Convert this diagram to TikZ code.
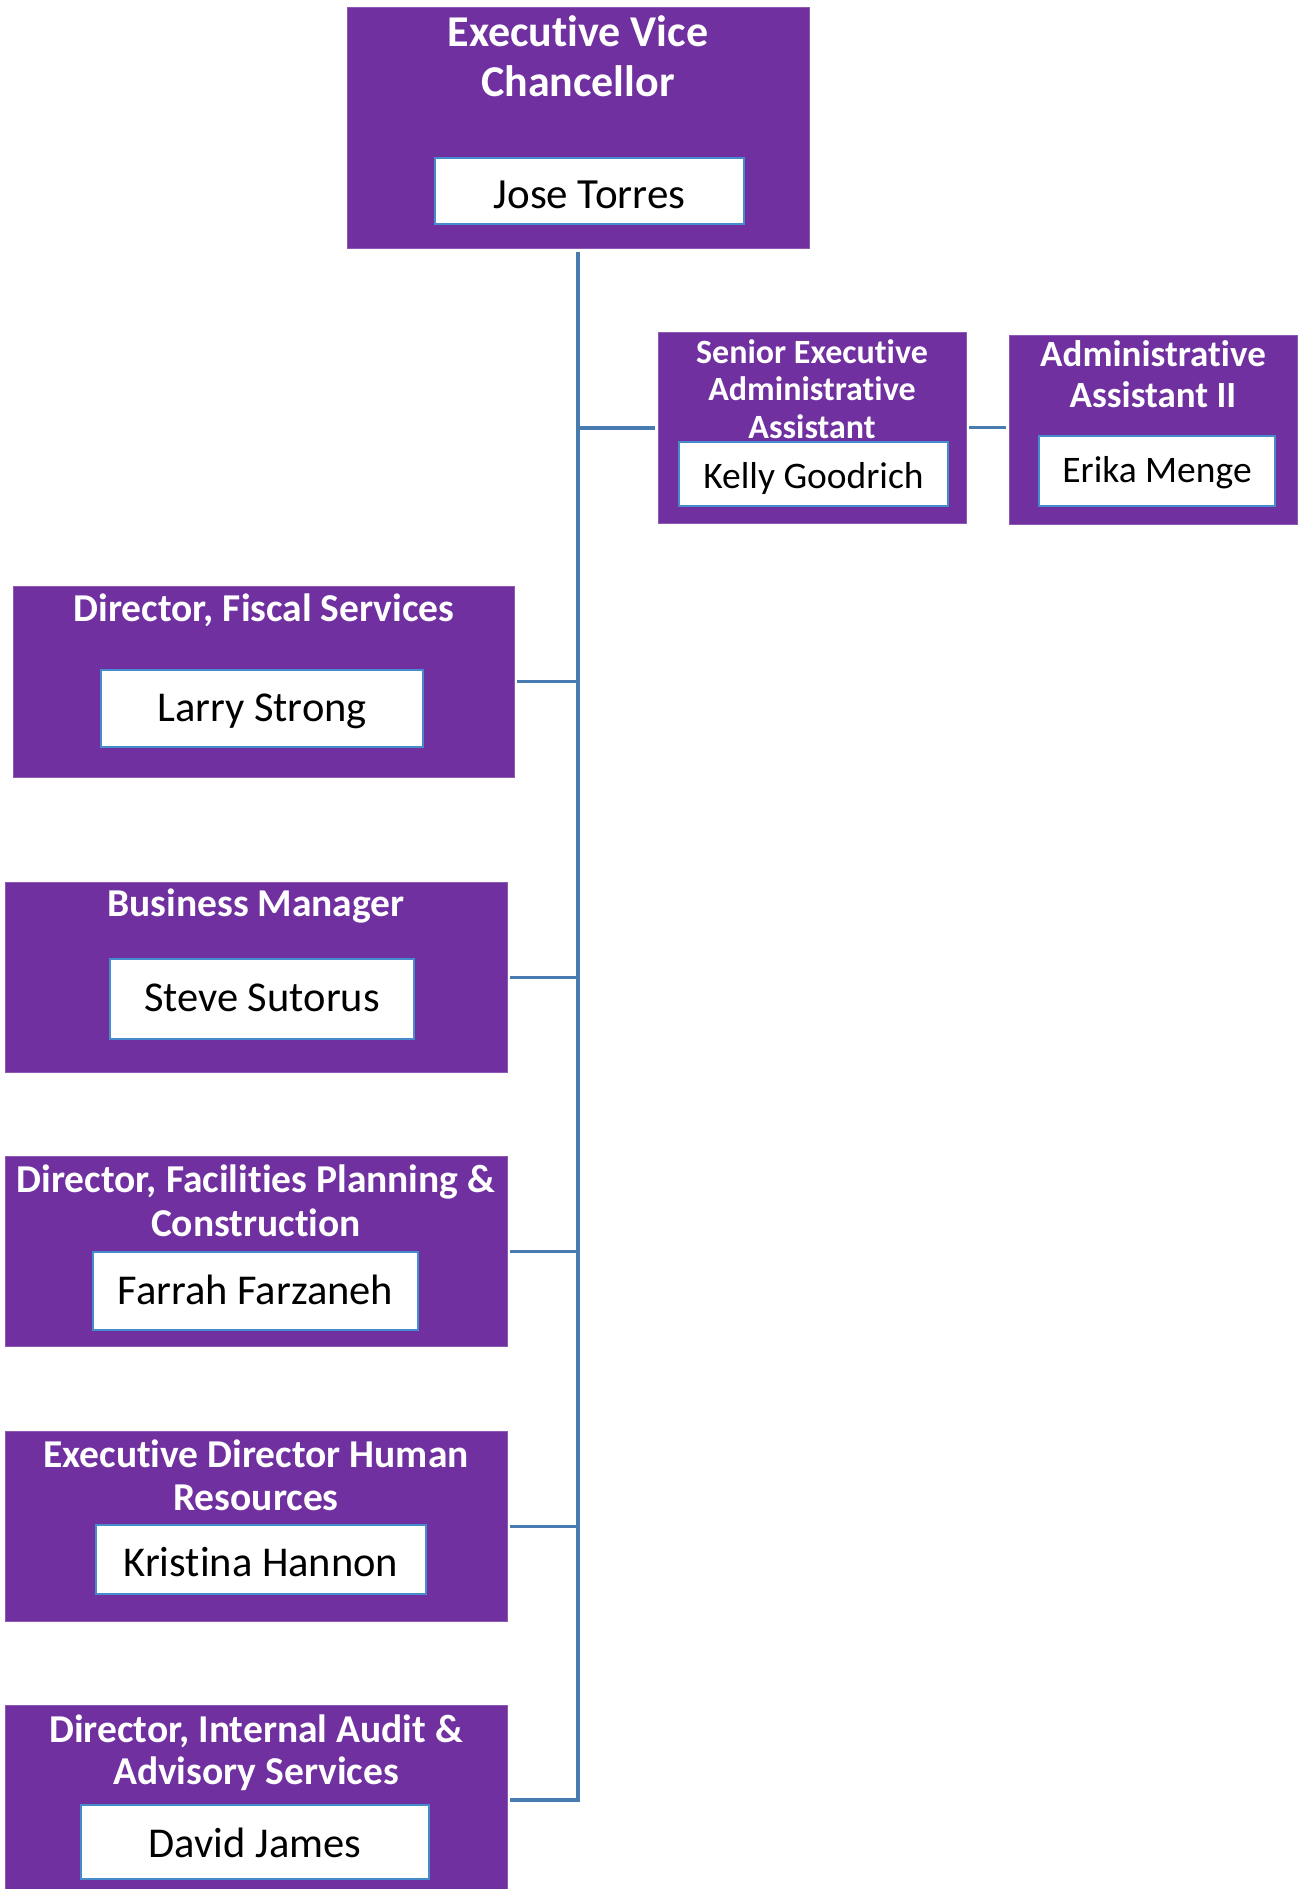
\documentclass[tikz,border=0pt]{standalone}
\usepackage{fontspec}
\setmainfont{Carlito}[Ligatures={NoCommon,NoRare}]
\definecolor{purp}{HTML}{7030A0}
\definecolor{lineblue}{RGB}{72,124,176}
\definecolor{boxblue}{RGB}{70,140,205}
\begin{document}
\begin{tikzpicture}[x=1pt,y=-1pt,
  pbox/.style={fill=purp,draw=purp!80!white,line width=0.6pt,inner sep=0pt},
  wbox/.style={fill=white,draw=boxblue,line width=1.8pt,inner sep=0pt,text depth=0pt},
  ttl/.style={text=white,align=center,inner sep=0pt},
  conn/.style={draw=lineblue,line width=3pt},
  trunk/.style={draw=lineblue,line width=3.4pt},
  connthick/.style={draw=lineblue,line width=4pt}]
\useasboundingbox (0,0) rectangle (1303,1889);
% Executive Vice Chancellor
\node[pbox,minimum width=462pt,minimum height=241pt] (evc) at (578,127.5) {};
\node[ttl,font=\fontsize{44}{50}\selectfont\bfseries] (evct) at (578,56) {Executive Vice\\Chancellor};
\node[wbox,minimum width=309pt,minimum height=66pt,text height=35pt,font=\fontsize{43}{46}\selectfont] (jose) at (589.5,191) {Jose Torres};
% Senior Executive Administrative Assistant
\node[pbox,minimum width=308pt,minimum height=191pt] (seaa) at (812,427.5) {};
\node[ttl,font=\fontsize{34}{37.5}\selectfont\bfseries] (seaat) at (812,389) {Senior Executive\\Administrative\\Assistant};
\node[wbox,minimum width=269pt,minimum height=64pt,text height=29.5pt,font=\fontsize{37.5}{40}\selectfont] (kelly) at (813.5,474) {Kelly Goodrich};
% Administrative Assistant II
\node[pbox,minimum width=288pt,minimum height=189pt] (aa2) at (1153,429.5) {};
\node[ttl,font=\fontsize{37}{41}\selectfont\bfseries] (aa2t) at (1153,374.5) {Administrative\\Assistant II};
\node[wbox,minimum width=236pt,minimum height=70pt,text height=22pt,font=\fontsize{37.5}{40}\selectfont] (erika) at (1157,471) {Erika Menge};
% Director, Fiscal Services
\node[pbox,minimum width=501pt,minimum height=191pt] (fiscal) at (263.5,681.5) {};
\node[ttl,font=\fontsize{39.5}{43}\selectfont\bfseries] (fiscalt) at (264,610.5) {Director, Fiscal Services};
\node[wbox,minimum width=322pt,minimum height=77pt,text height=26pt,font=\fontsize{42.5}{46}\selectfont] (larry) at (262,708.5) {Larry Strong};
% Business Manager
\node[pbox,minimum width=502pt,minimum height=190pt] (bm) at (256,977) {};
\node[ttl,font=\fontsize{39.5}{43}\selectfont\bfseries] (bmt) at (256,905.5) {Business Manager};
\node[wbox,minimum width=304pt,minimum height=80pt,text height=24pt,font=\fontsize{42.5}{46}\selectfont] (steve) at (262,999) {Steve Sutorus};
% Facilities
\node[pbox,minimum width=502pt,minimum height=190pt] (fac) at (256,1251) {};
\node[ttl,font=\fontsize{39.5}{44}\selectfont\bfseries] (fact) at (256,1200.5) {Director, Facilities Planning \&\\Construction};
\node[wbox,minimum width=325pt,minimum height=78pt,text height=27pt,font=\fontsize{42.5}{46}\selectfont] (farrah) at (255.5,1291) {Farrah Farzaneh};
% HR
\node[pbox,minimum width=502pt,minimum height=190pt] (hr) at (256,1526) {};
\node[ttl,font=\fontsize{39.5}{43}\selectfont\bfseries] (hrt) at (256,1475.5) {Executive Director Human\\Resources};
\node[wbox,minimum width=330pt,minimum height=69pt,text height=34pt,font=\fontsize{42.5}{46}\selectfont] (kristina) at (261,1559.5) {Kristina Hannon};
% Audit
\node[pbox,minimum width=502pt,minimum height=184pt] (audit) at (256,1797) {};
\node[ttl,font=\fontsize{39.5}{42}\selectfont\bfseries] (auditt) at (256,1752.5) {Director, Internal Audit \&\\Advisory Services};
\node[wbox,minimum width=348pt,minimum height=74pt,text height=30pt,font=\fontsize{42.5}{46}\selectfont] (david) at (255,1842) {David James};
% connectors
\draw[trunk,shorten <=4pt,shorten >=3pt] (evc.south) |- ([yshift=-3pt]audit.east);
\draw[connthick,shorten <=3pt] (seaa.west) -- (seaa.west -| evc.south);
\draw[conn,shorten <=3pt,shorten >=3pt] (seaa) -- (seaa -| aa2.west);
\draw[conn,shorten <=3pt] (fiscal.east) -- (fiscal.east -| evc.south);
\draw[conn,shorten <=3pt] (bm.east) -- (bm.east -| evc.south);
\draw[conn,shorten <=3pt] (fac.east) -- (fac.east -| evc.south);
\draw[conn,shorten <=3pt] (hr.east) -- (hr.east -| evc.south);
\end{tikzpicture}
\end{document}
